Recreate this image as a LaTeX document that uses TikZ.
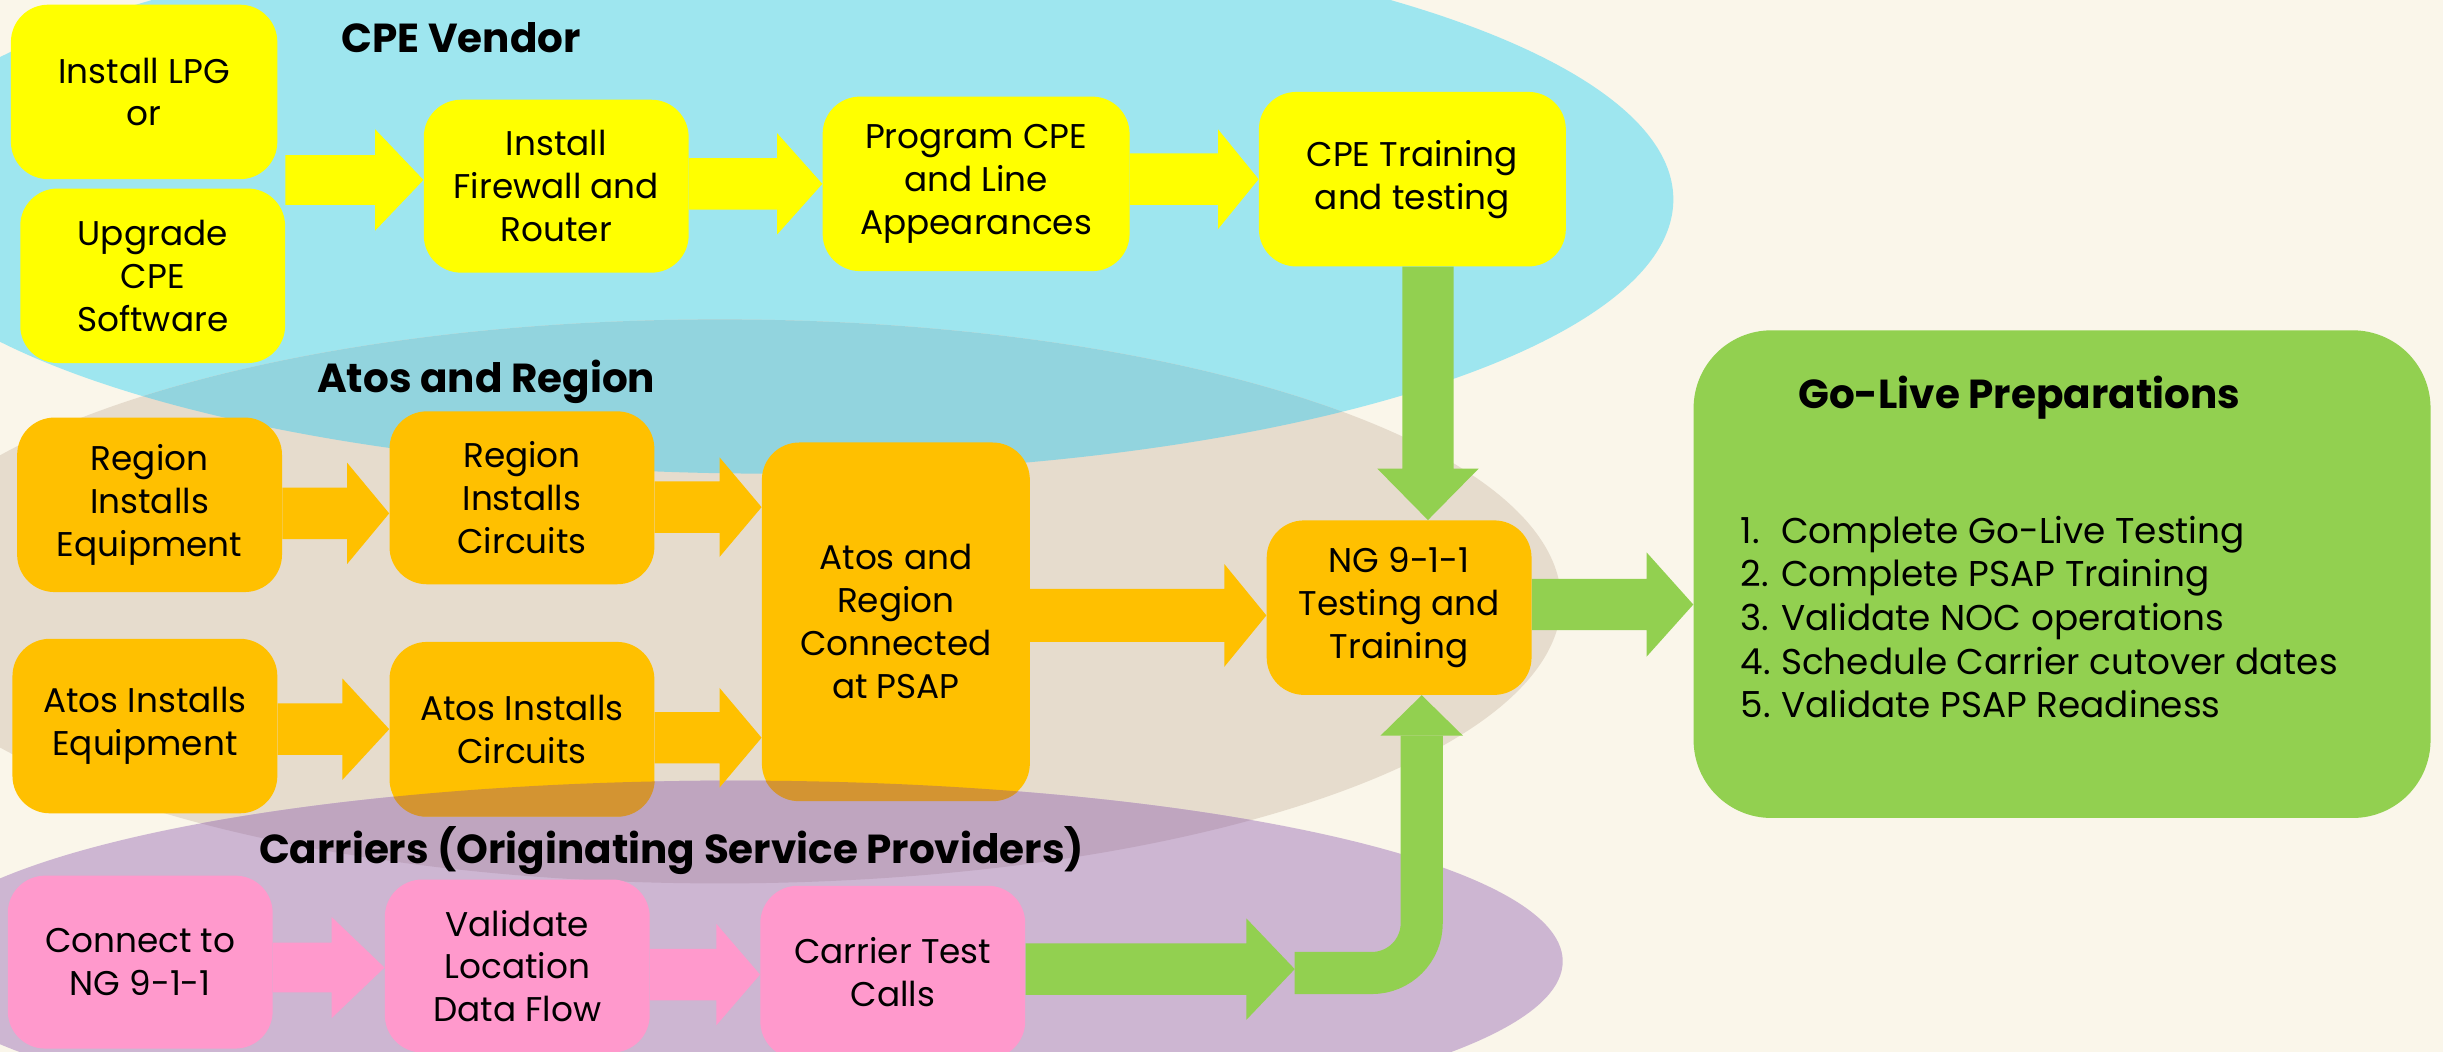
\documentclass[tikz,border=0pt]{standalone}
\usepackage{fontspec}
\setmainfont{Poppins}
\usetikzlibrary{calc}
\definecolor{cream}{HTML}{FAF6EA}
\definecolor{cyanbg}{HTML}{9EE6EF}
\definecolor{tanbg}{HTML}{E6DCCD}
\definecolor{cyantan}{HTML}{92D4DE}
\definecolor{purplebg}{HTML}{CDB6D2}
\definecolor{purpletan}{HTML}{BFA5BF}
\definecolor{boxyellow}{HTML}{FFFF00}
\definecolor{boxorange}{HTML}{FFC000}
\definecolor{darkorange}{HTML}{D39432}
\definecolor{boxpink}{HTML}{FF99CC}
\definecolor{boxgreen}{HTML}{92D050}
\tikzset{
  box/.style={rectangle, rounded corners=24, align=center, inner sep=0pt, text=black,
    font=\fontsize{22}{27.5}\selectfont},
  ybox/.style={box, fill=boxyellow},
  obox/.style={box, fill=boxorange},
  pbox/.style={box, fill=boxpink},
  gbox/.style={rectangle, rounded corners=50, inner sep=0pt, fill=boxgreen},
  heading/.style={inner sep=0pt, text=black, font=\fontsize{26}{30}\selectfont\bfseries},
  listtext/.style={inner sep=0pt, align=left, text=black, font=\fontsize{23}{28}\selectfont},
  yarrow/.style={fill=boxyellow},
  oarrow/.style={fill=boxorange},
  parrow/.style={fill=boxpink},
  garrow/.style={fill=boxgreen},
}
% horizontal block arrow: style, start, tip, shaft half width, head half width, head length
\newcommand\hblock[6]{%
  \fill[#1] let \p1=#2, \p2=#3 in
    (\x1,\y2+#4) -- (\x2-#6,\y2+#4) -- (\x2-#6,\y2+#5) -- (\x2,\y2)
    -- (\x2-#6,\y2-#5) -- (\x2-#6,\y2-#4) -- (\x1,\y2-#4) -- cycle;}
\newcommand\listnum[1]{\makebox[26pt][l]{#1}}
\begin{document}
\begin{tikzpicture}[x=1pt,y=-1pt]
\clip (0,0) rectangle (1568,675);
\fill[cream] (0,0) rectangle (1568,675);
% swim-lane ellipses
\fill[cyanbg] (495,128) ellipse [x radius=579, y radius=176];
\fill[tanbg] (462,386) ellipse [x radius=540, y radius=181];
\begin{scope}
  \clip (495,128) ellipse [x radius=579, y radius=176];
  \fill[cyantan] (462,386) ellipse [x radius=540, y radius=181];
\end{scope}
\fill[purplebg] (472,617) ellipse [x radius=531, y radius=116];
\begin{scope}
  \clip (472,617) ellipse [x radius=531, y radius=116];
  \fill[purpletan] (462,386) ellipse [x radius=540, y radius=181];
\end{scope}

% headings
\node[heading] (hcpe) at (296,24) {CPE Vendor};
\node[heading] (hatos) at (312,245) {Atos and Region};
\node[heading] (hcar) at (431,546) {Carriers (Originating Service Providers)};

% yellow boxes
\node[ybox, minimum width=171, minimum height=112] (lpg) at (92.5,59) {Install LPG\\or};
\node[ybox, minimum width=170, minimum height=112] (upg) at (98,177) {Upgrade\\CPE\\Software};
\node[ybox, minimum width=170, minimum height=111] (fw) at (357,119.5) {Install\\Firewall and\\Router};
\node[ybox, minimum width=197, minimum height=112] (prog) at (626.5,118) {Program CPE\\and Line\\Appearances};
\node[ybox, minimum width=197, minimum height=112] (cpet) at (906.5,115) {CPE Training\\and testing};

% orange boxes
\node[obox, minimum width=170, minimum height=112] (rie) at (96,324) {Region\\Installs\\Equipment};
\node[obox, minimum width=170, minimum height=111] (ric) at (335,319.5) {Region\\Installs\\Circuits};
\node[obox, minimum width=172, minimum height=230] (arc) at (575,399) {Atos and\\Region\\Connected\\at PSAP};
\node[obox, minimum width=170, minimum height=112] (aie) at (93,466) {Atos Installs\\Equipment};
\node[obox, minimum width=170, minimum height=112] (aic) at (335,468) {Atos Installs\\Circuits};
\node[obox, minimum width=170, minimum height=112] (ng) at (898,390) {NG 9-1-1\\Testing and\\Training};

% purple lane shading over orange boxes
\begin{scope}
  \clip (472,617) ellipse [x radius=531, y radius=116];
  \fill[darkorange, rounded corners=24] (arc.south west) rectangle (arc.north east);
  \fill[darkorange, rounded corners=24] (aic.south west) rectangle (aic.north east);
\end{scope}

% pink boxes
\node[pbox, minimum width=170, minimum height=111] (con) at (90,617.5) {Connect to\\NG 9-1-1};
\node[pbox, minimum width=170, minimum height=111] (val) at (332,620) {Validate\\Location\\Data Flow};
\node[pbox, minimum width=170, minimum height=111] (ctc) at (573,624) {Carrier Test\\Calls};

% green box
\node[gbox, minimum width=473, minimum height=313] (gol) at (1323.5,368.5) {};
\node[heading] (goltitle) at (1296,255) {Go-Live Preparations};
\node[listtext, anchor=west] (golist) at (1117,396) {\listnum{1.}Complete Go-Live Testing\\
\listnum{2.}Complete PSAP Training\\
\listnum{3.}Validate NOC operations\\
\listnum{4.}Schedule Carrier cutover dates\\
\listnum{5.}Validate PSAP Readiness};

% yellow arrows
\hblock{yarrow}{(upg.east)}{([yshift=4]fw.west)}{16}{32.5}{31}
\hblock{yarrow}{(fw.east)}{(prog.west)}{16.5}{32.5}{29}
\hblock{yarrow}{(prog.east)}{(cpet.west)}{16.5}{32}{26}

% orange arrows
\hblock{oarrow}{(rie.east)}{([yshift=-10]ric.west)}{16.5}{32.5}{27}
\hblock{oarrow}{(ric.east)}{($(ric.east -| arc.west)+(0,6)$)}{16.5}{32}{27}
\hblock{oarrow}{(aie.east)}{(aic.west)}{16.5}{32.5}{30}
\hblock{oarrow}{(aic.east)}{($(aic.east -| arc.west)+(0,5.5)$)}{16.5}{32}{27}
\hblock{oarrow}{(arc.east)}{($(ng.west)+(0,5)$)}{17}{33}{27}

% pink arrows
\hblock{parrow}{(con.east)}{($(con.east -| val.west)+(0,3.5)$)}{16}{32.5}{34}
\hblock{parrow}{(val.east)}{($(val.east -| ctc.west)+(0,5.5)$)}{16.5}{32.5}{28}

% green arrows
\hblock{garrow}{(ng.east)}{($(ng.east -| gol.west)+(0,-2)$)}{16.5}{33.5}{30}
\fill[garrow] let \p1=([xshift=10]cpet.south), \p2=(ng.north) in
  (\x1-16.5,\y1) -- (\x1-16.5,\y2+33) -- (\x1-32.5,\y2+33) -- (\x1,\y2)
  -- (\x1+32.5,\y2+33) -- (\x1+16.5,\y2+33) -- (\x1+16.5,\y1) -- cycle;
\coordinate (gtip) at (831,622);
\hblock{garrow}{(ctc.east)}{(gtip)}{16.5}{32.5}{31}
\coordinate (bt) at ([xshift=14.5]ng.south);
\draw[boxgreen, line width=27, rounded corners=32] ($(gtip)+(0,2.5)$) -- ($(gtip -| bt)+(0,2.5)$) -- ($(bt)+(0,26)$);
\fill[garrow] let \p1=(bt) in (\x1-26.5,\y1-26) -- (\x1,\y1) -- (\x1+26.5,\y1-26) -- cycle;
\end{tikzpicture}
\end{document}
